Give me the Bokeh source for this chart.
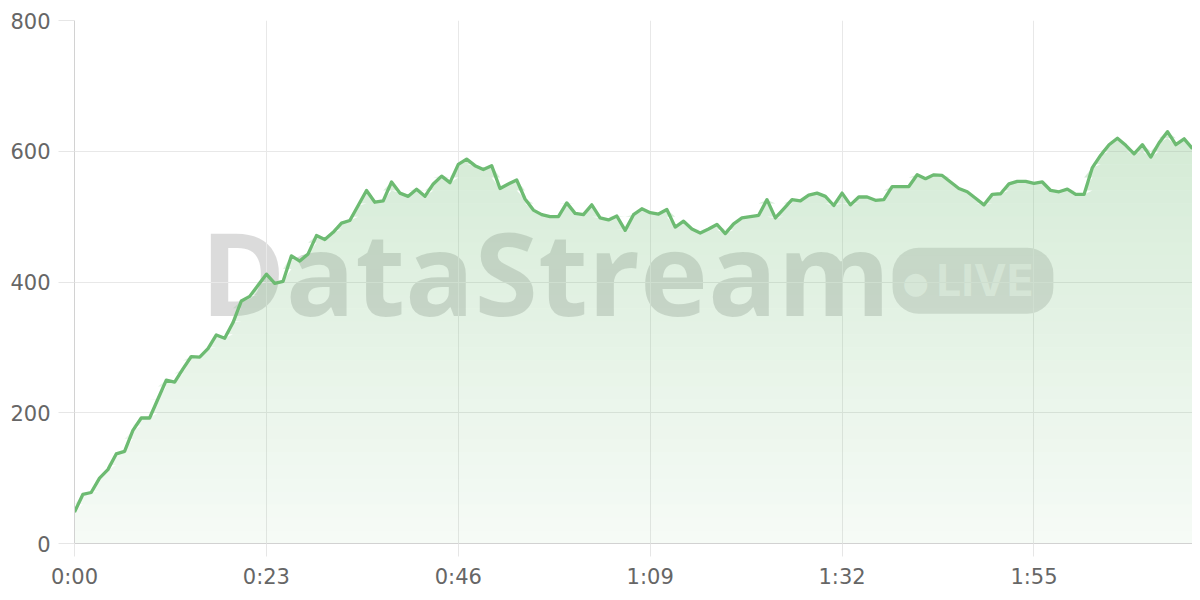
from bokeh.plotting import figure
from bokeh.models import Range1d, FixedTicker, Label
from bokeh.embed import file_html
from bokeh.resources import INLINE

# ---- data (one reading per second) ----
values = [
    48, 75, 78, 100, 113, 137, 141, 173, 192, 192,
    221, 250, 247, 267, 286, 285, 298, 319, 314, 338,
    371, 378, 395, 412, 398, 401, 440, 432, 443, 471,
    465, 476, 490, 494, 517, 540, 522, 524, 553, 536,
    531, 542, 531, 550, 562, 552, 580, 588, 578, 572,
    578, 543, 550, 556, 527, 510, 503, 500, 500, 521,
    505, 503, 518, 498, 495, 501, 479, 503, 512, 506,
    504, 511, 484, 493, 481, 475, 481, 488, 474, 489,
    498, 500, 502, 526, 498, 512, 526, 524, 533, 536,
    531, 517, 536, 518, 530, 530, 525, 526, 546, 546,
    546, 564, 558, 564, 563, 553, 543, 538, 528, 518,
    534, 535, 550, 554, 554, 551, 553, 540, 538, 542,
    534, 534, 575, 594, 610, 620, 609, 596, 610, 591,
    613, 630, 610, 619, 604,
]
seconds = list(range(len(values)))
tick_seconds = [0, 23, 46, 69, 92, 115]
tick_labels = ["0:00", "0:23", "0:46", "1:09", "1:32", "1:55"]
y_ticks = [0, 200, 400, 600, 800]

LINE = "#6dbb72"

p = figure(width=1192, height=592, output_backend="svg", toolbar_location=None,
           x_range=Range1d(0, 134), y_range=Range1d(0, 800),
           min_border_left=74, min_border_right=0, min_border_top=20,
           min_border_bottom=49)
p.outline_line_color = None
p.background_fill_color = "white"
p.border_fill_color = "white"

# ---- watermark ----
wm = Label(x=56.45, y=416, text="DataStream", text_font="Open Sans",
           text_font_style="bold", text_font_size="115px", text_color="black",
           text_alpha=0.14, text_align="center", text_baseline="middle",
           level="image")
pill = Label(x=98.05, y=402, text="LIVE", text_font="Inter",
             text_font_style="bold", text_font_size="44px", text_color="white",
             text_alpha=0.55, text_align="left", text_baseline="middle",
             background_fill_color="black", background_fill_alpha=0.12,
             border_radius=26, padding=(44, 20, 5, 7), level="image")
dot = Label(x=100.8, y=400, text="\u25cf", text_font="DejaVu Sans",
            text_font_size="30px", text_color="white", text_alpha=0.6,
            text_align="center", text_baseline="middle", level="image")
p.add_layout(wm)
p.add_layout(pill)
p.add_layout(dot)

# ---- gradient-like area fill (horizontal translucent bands) ----
band = 20
for lo in range(0, 800, band):
    hi = lo + band
    if lo >= max(values):
        break
    upper = [min(max(v, lo), hi) for v in values]
    lower = [lo] * len(values)
    mid = lo + band / 2
    p.varea(x=seconds, y1=lower, y2=upper, fill_color=LINE,
            fill_alpha=0.06 + 0.24 * mid / 640)

p.line(seconds, values, line_color=LINE, line_width=3.3, line_join="round")

# ---- axes ----
p.xaxis.ticker = FixedTicker(ticks=tick_seconds)
p.xaxis.major_label_overrides = {t: lab for t, lab in zip(tick_seconds, tick_labels)}
p.yaxis.ticker = FixedTicker(ticks=y_ticks)

for ax in (p.xaxis, p.yaxis):
    ax.axis_line_color = "#d2d2d2"
    ax.axis_line_width = 1
    ax.major_tick_line_color = "#e6e6e6"
    ax.major_tick_in = 0
    ax.minor_tick_line_color = None
    ax.major_label_text_font = "DejaVu Sans"
    ax.major_label_text_font_size = "21px"
    ax.major_label_text_color = "#666666"
p.xaxis.major_tick_out = 13
p.yaxis.major_tick_out = 16
p.xaxis.major_label_standoff = 8
p.yaxis.major_label_standoff = 8

p.xgrid.grid_line_color = "#e8e8e8"
p.ygrid.grid_line_color = "#e8e8e8"

open("out.html", "w").write(file_html(p, INLINE))
